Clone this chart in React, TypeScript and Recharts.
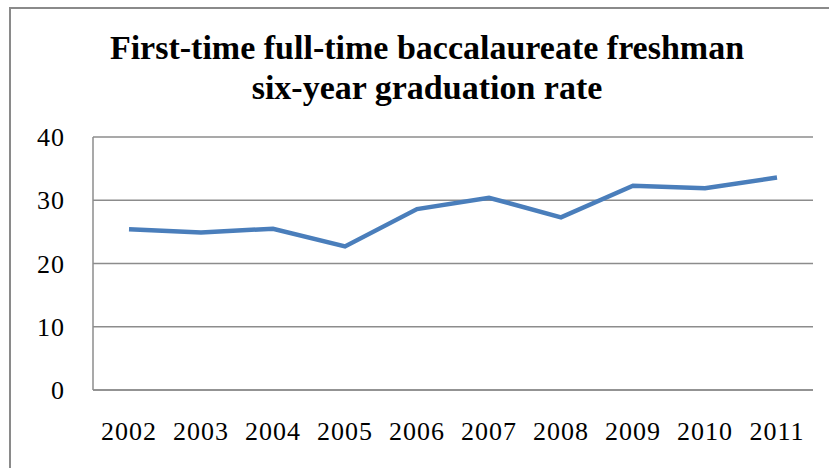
import React from "react";
import { LineChart, Line, XAxis, YAxis, CartesianGrid } from "recharts";

const years = ["2002", "2003", "2004", "2005", "2006", "2007", "2008", "2009", "2010", "2011"];
const rates = [25.4, 24.9, 25.5, 22.7, 28.6, 30.4, 27.3, 32.3, 31.9, 33.6];
const yTicks = [0, 10, 20, 30, 40];
const titleLines = ["First-time full-time baccalaureate freshman", "six-year graduation rate"];

const data = years.map((y, i) => ({ year: y, rate: rates[i] }));

const FONT = "'Liberation Serif', 'Times New Roman', serif";

export default function App() {
  return (
    <div style={{ position: "absolute", left: 0, top: 0, width: 829, height: 468, background: "#fff", overflow: "hidden" }}>
      <div
        style={{
          position: "absolute",
          left: 9,
          top: 7,
          width: 900,
          height: 500,
          border: "2px solid #8a8a8a",
          boxSizing: "border-box",
        }}
      />
      <div
        style={{
          position: "absolute",
          left: 0,
          top: 28,
          width: 854,
          textAlign: "center",
          fontFamily: FONT,
          fontWeight: "bold",
          fontSize: 34,
          lineHeight: "40px",
          color: "#000",
        }}
      >
        {titleLines.map((t) => (
          <div key={t}>{t}</div>
        ))}
      </div>
      <div style={{ position: "absolute", left: 0, top: 0 }}>
        <LineChart
          width={829}
          height={468}
          data={data}
          margin={{ top: 137, right: 16, bottom: 0, left: 0 }}
        >
          <CartesianGrid vertical={false} stroke="#8c8c8c" strokeWidth={1.5} />
          <XAxis
            dataKey="year"
            height={78}
            padding={{ left: 36, right: 36 }}
            axisLine={{ stroke: "#8c8c8c", strokeWidth: 1.5 }}
            tickLine={false}
            tick={{ fill: "#000", fontSize: 26, fontFamily: FONT, letterSpacing: 1 }}
            tickMargin={26}
            interval={0}
          />
          <YAxis
            domain={[0, 40]}
            ticks={yTicks}
            width={93}
            axisLine={{ stroke: "#8c8c8c", strokeWidth: 1.5 }}
            tickLine={false}
            tick={{ fill: "#000", fontSize: 26, fontFamily: FONT, letterSpacing: 1 }}
            tickMargin={22}
          />
          <Line
            type="linear"
            dataKey="rate"
            stroke="#4a7ebb"
            strokeWidth={4.5}
            dot={false}
            isAnimationActive={false}
          />
        </LineChart>
      </div>
    </div>
  );
}
